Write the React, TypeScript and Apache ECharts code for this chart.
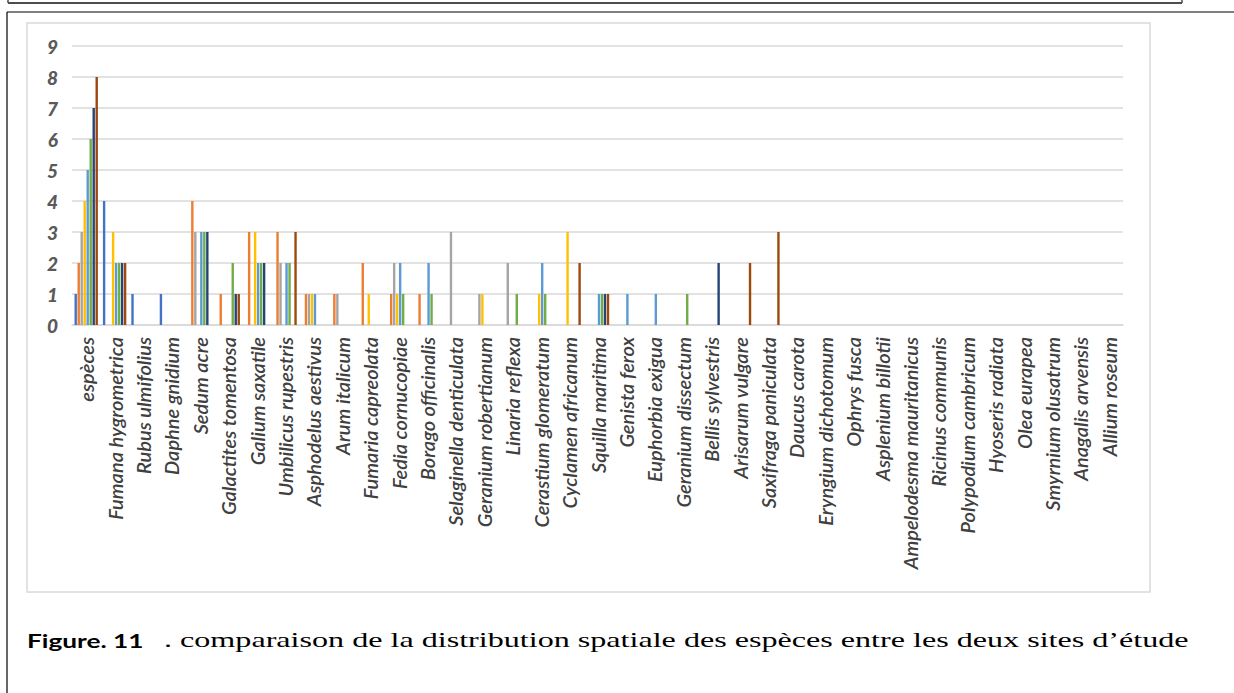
import React, { useEffect, useRef } from "react";
import * as echarts from "echarts";

const categories = [
  "espèces", "Fumana hygrometrica", "Rubus ulmifolius", "Daphne gnidium", "Sedum acre",
  "Galactites tomentosa", "Galium saxatile", "Umbilicus rupestris", "Asphodelus aestivus", "Arum italicum",
  "Fumaria capreolata", "Fedia cornucopiae", "Borago officinalis", "Selaginella denticulata", "Geranium robertianum",
  "Linaria reflexa", "Cerastium glomeratum", "Cyclamen africanum", "Squilla maritima", "Genista ferox",
  "Euphorbia exigua", "Geranium dissectum", "Bellis sylvestris", "Arisarum vulgare", "Saxifraga paniculata",
  "Daucus carota", "Eryngium dichotomum", "Ophrys fusca", "Asplenium billotii", "Ampelodesma mauritanicus",
  "Ricinus communis", "Polypodium cambricum", "Hyoseris radiata", "Olea eurapea", "Smyrnium olusatrum",
  "Anagalis arvensis", "Allium roseum",
];

const serie1 = [1, 4, 1, 1, 0, 0, 0, 0, 0, 0, 0, 0, 0, 0, 0, 0, 0, 0, 0, 0, 0, 0, 0, 0, 0, 0, 0, 0, 0, 0, 0, 0, 0, 0, 0, 0, 0];
const serie2 = [2, 0, 0, 0, 4, 1, 3, 3, 1, 1, 2, 1, 1, 0, 0, 0, 0, 0, 0, 0, 0, 0, 0, 0, 0, 0, 0, 0, 0, 0, 0, 0, 0, 0, 0, 0, 0];
const serie3 = [3, 0, 0, 0, 3, 0, 0, 2, 1, 1, 0, 2, 0, 3, 1, 2, 0, 0, 0, 0, 0, 0, 0, 0, 0, 0, 0, 0, 0, 0, 0, 0, 0, 0, 0, 0, 0];
const serie4 = [4, 3, 0, 0, 0, 0, 3, 0, 1, 0, 1, 1, 0, 0, 1, 0, 1, 3, 0, 0, 0, 0, 0, 0, 0, 0, 0, 0, 0, 0, 0, 0, 0, 0, 0, 0, 0];
const serie5 = [5, 2, 0, 0, 3, 0, 2, 2, 1, 0, 0, 2, 2, 0, 0, 0, 2, 0, 1, 1, 1, 0, 0, 0, 0, 0, 0, 0, 0, 0, 0, 0, 0, 0, 0, 0, 0];
const serie6 = [6, 2, 0, 0, 3, 2, 2, 2, 0, 0, 0, 1, 1, 0, 0, 1, 1, 0, 1, 0, 0, 1, 0, 0, 0, 0, 0, 0, 0, 0, 0, 0, 0, 0, 0, 0, 0];
const serie7 = [7, 2, 0, 0, 3, 1, 2, 0, 0, 0, 0, 0, 0, 0, 0, 0, 0, 0, 1, 0, 0, 0, 2, 0, 0, 0, 0, 0, 0, 0, 0, 0, 0, 0, 0, 0, 0];
const serie8 = [8, 2, 0, 0, 0, 1, 0, 3, 0, 0, 0, 0, 0, 0, 0, 0, 0, 2, 1, 0, 0, 0, 0, 2, 3, 0, 0, 0, 0, 0, 0, 0, 0, 0, 0, 0, 0];

const seriesNames = ["Série1", "Série2", "Série3", "Série4", "Série5", "Série6", "Série7", "Série8"];
const seriesValues = [serie1, serie2, serie3, serie4, serie5, serie6, serie7, serie8];
const colors = ["#4472C4", "#ED7D31", "#A5A5A5", "#FFC000", "#5B9BD5", "#70AD47", "#264478", "#9E480E"];

const yTicks = { min: 0, max: 9, interval: 1 };

const captionBold = "Figure. 11";
const captionText = ". comparaison de la distribution spatiale des espèces entre les deux sites d’étude";

export default function App() {
  const ref = useRef<HTMLDivElement>(null);
  useEffect(() => {
    if (!ref.current) return;
    const chart = echarts.init(ref.current, null, { renderer: "svg" });
    chart.setOption({
      animation: false,
      backgroundColor: "#ffffff",
      grid: { left: 72, right: 111, top: 46, bottom: 368 },
      xAxis: {
        type: "category",
        data: categories,
        axisTick: { show: false },
        axisLine: { lineStyle: { color: "#D9D9D9", width: 1.5 } },
        axisLabel: {
          interval: 0,
          rotate: 90,
          margin: 12,
          color: "#404040",
          fontFamily: "Lato",
          fontStyle: "italic",
          fontWeight: 600,
          fontSize: 20,
        },
      },
      yAxis: {
        type: "value",
        min: yTicks.min,
        max: yTicks.max,
        interval: yTicks.interval,
        axisLine: { show: false },
        axisTick: { show: false },
        axisLabel: {
          color: "#595959",
          fontFamily: "Lato",
          fontStyle: "italic",
          fontWeight: 900,
          fontSize: 19,
          margin: 14,
        },
        splitLine: { lineStyle: { color: "#D9D9D9", width: 1.5 } },
      },
      series: seriesValues.map((vals, i) => ({
        name: seriesNames[i],
        type: "bar",
        data: vals,
        barWidth: 2.4,
        barGap: "25%",
        itemStyle: { color: colors[i] },
      })),
      graphic: [
        { type: "line", shape: { x1: 8, y1: 0, x2: 8, y2: 3 }, style: { stroke: "#4d4d4d", lineWidth: 1.5 } },
        { type: "line", shape: { x1: 1182, y1: 0, x2: 1182, y2: 3 }, style: { stroke: "#4d4d4d", lineWidth: 1.5 } },
        { type: "line", shape: { x1: 8, y1: 3, x2: 1182, y2: 3 }, style: { stroke: "#4d4d4d", lineWidth: 1.8 } },
        { type: "line", shape: { x1: 7, y1: 12, x2: 1234, y2: 12 }, style: { stroke: "#000", lineWidth: 1.2 } },
        { type: "line", shape: { x1: 7, y1: 12, x2: 7, y2: 693 }, style: { stroke: "#000", lineWidth: 1.2 } },
        {
          type: "rect",
          shape: { x: 27, y: 23, width: 1123, height: 569 },
          style: { fill: "none", stroke: "#D9D9D9", lineWidth: 1.5 },
          z: -1,
        },
        {
          type: "text",
          x: 27,
          y: 641,
          scaleX: 1.38,
          style: {
            text: captionBold,
            fontFamily: "Lato",
            fontWeight: "bold",
            fontSize: 19,
            fill: "#000",
            verticalAlign: "middle",
          },
        },
        {
          type: "text",
          x: 164,
          y: 640,
          scaleX: 1.53,
          style: {
            text: captionText,
            fontFamily: "Liberation Serif",
            fontSize: 21,
            fill: "#000",
            verticalAlign: "middle",
          },
        },
      ],
    });
    return () => chart.dispose();
  }, []);
  return (
    <div
      ref={ref}
      style={{ position: "absolute", left: 0, top: 0, width: 1234, height: 693, background: "#fff" }}
    />
  );
}
